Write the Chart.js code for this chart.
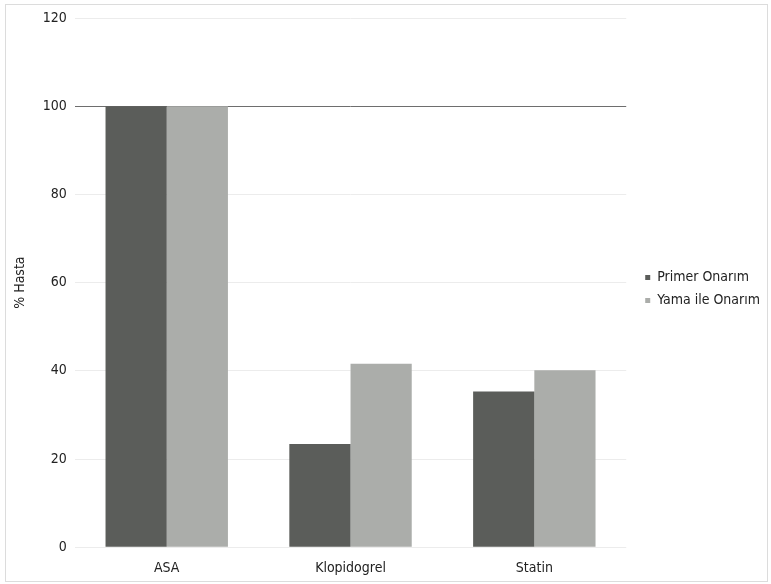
<!DOCTYPE html>
<html><head><meta charset="utf-8">
<script src="https://cdn.jsdelivr.net/npm/chart.js@4/dist/chart.umd.min.js"></script>
<style>html,body{margin:0;padding:0;background:#fff;}#wrap{width:771px;height:584px;position:relative;}</style>
</head><body><div id="wrap"><canvas id="c" width="771" height="584"></canvas></div>
<script>
const categories = ["ASA", "Klopidogrel", "Statin"];
const primerOnarim = [100, 23.4, 35.3];
const yamaIleOnarim = [100, 41.6, 40.1];
const seriesNames = ["Primer Onarım", "Yama ile Onarım"];
const yTicks = [0, 20, 40, 60, 80, 100, 120];

const FONT = '"DejaVu Sans Condensed", "Liberation Sans", sans-serif';

const frame = {
  id: 'frame',
  beforeDraw(chart) {
    const ctx = chart.ctx;
    ctx.save();
    ctx.fillStyle = '#fff';
    ctx.fillRect(0, 0, chart.width, chart.height);
    ctx.strokeStyle = '#dcdcdc';
    ctx.lineWidth = 1;
    ctx.strokeRect(5.5, 4.5, 762, 577);
    ctx.restore();
  }
};

const legendShift = {
  id: 'legendShift',
  afterLayout(chart) {
    const lg = chart.legend;
    if (!lg) return;
    lg.left += 10; lg.right += 10;
    lg.top -= 11; lg.bottom -= 11;
    if (lg.adjustHitBoxes) lg.adjustHitBoxes();
  }
};

new Chart(document.getElementById('c'), {
  type: 'bar',
  data: {
    labels: categories,
    datasets: [
      { label: seriesNames[0], data: primerOnarim, backgroundColor: '#5b5d5a', categoryPercentage: 0.666, barPercentage: 1.0 },
      { label: seriesNames[1], data: yamaIleOnarim, backgroundColor: '#abadaa', categoryPercentage: 0.666, barPercentage: 1.0 }
    ]
  },
  options: {
    responsive: false,
    animation: false,
    layout: { padding: { top: 18, right: 11, bottom: 2, left: 12 } },
    plugins: {
      tooltip: { enabled: false },
      legend: {
        position: 'right',
        align: 'center',
        labels: {
          boxWidth: 5, boxHeight: 5, padding: 9,
          color: '#222',
          font: { family: FONT, size: 14 }
        }
      }
    },
    scales: {
      x: {
        grid: { display: false },
        border: { display: false },
        ticks: { color: '#222', font: { family: FONT, size: 14 }, padding: 5 }
      },
      y: {
        min: 0, max: 120,
        afterBuildTicks(axis) { axis.ticks = yTicks.map(v => ({ value: v })); },
        border: { display: false },
        grid: {
          color: ctx => (ctx.tick && ctx.tick.value === 100) ? '#6e6e6e' : '#ececec',
          drawTicks: false
        },
        ticks: { color: '#222', font: { family: FONT, size: 14 }, padding: 8 },
        title: { display: true, text: '% Hasta', color: '#222', font: { family: FONT, size: 14 }, padding: { top: 0, bottom: 6 } }
      }
    }
  },
  plugins: [frame, legendShift]
});
</script></body></html>
